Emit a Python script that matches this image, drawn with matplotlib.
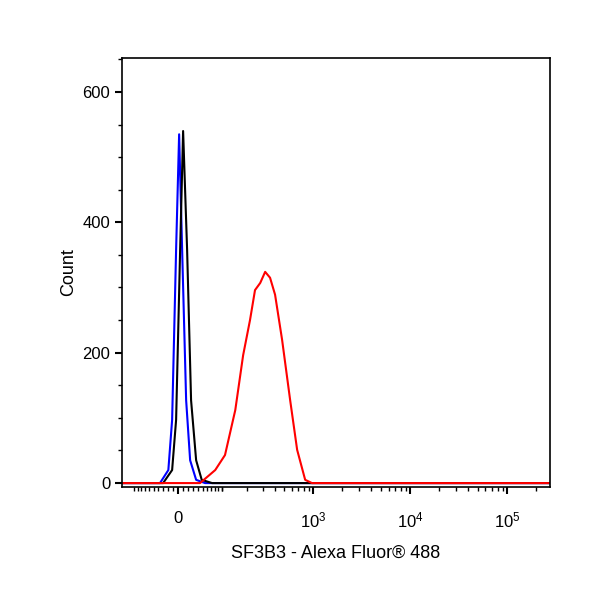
import matplotlib
matplotlib.use("Agg")
import matplotlib.pyplot as plt
import numpy as np

plt.rcParams['font.family'] = ['Liberation Sans', 'DejaVu Sans']
plt.rcParams['mathtext.fontset'] = 'custom'
plt.rcParams['mathtext.rm'] = 'Liberation Sans'
plt.rcParams['mathtext.it'] = 'Liberation Sans'

blue_x = [-140, -36, -19, -11.6, -3.9, 1.9, 7.7, 15.5, 23.4, 35.7, 55.5, 270000]
blue_y = [0, 0, 20, 97, 358, 535, 358, 127, 35, 5, 0, 0]
black_x = [-140, -29.5, -11.6, -3.9, 3.85, 9.6, 17.4, 25.3, 35.7, 47.8, 72.7, 270000]
black_y = [0, 0, 20, 97, 358, 540, 358, 127, 35, 5, 0, 0]
red_x = [-140, 44, 81, 110, 147, 181, 216, 245, 279, 315, 355, 401, 475, 577, 682, 826, 972, 270000]
red_y = [0, 0, 20, 43, 112, 196, 250, 296, 307, 324, 315, 289, 220, 127, 51, 5, 0, 0]

fig = plt.figure(figsize=(6, 6), dpi=100)
ax = fig.add_axes([122/600, 1-487/600, 428/600, 429/600])
ax.set_xscale('asinh', linear_width=81)
ax.plot(blue_x, blue_y, color='blue', lw=1.5)
ax.plot(black_x, black_y, color='black', lw=1.5)
ax.plot(red_x, red_y, color='red', lw=1.5)
ax.set_xlim(-143, 278000)
ax.set_ylim(-6, 652)

ax.set_xticks([0, 1e3, 1e4, 1e5])
ax.set_xticklabels(['0', '$10^3$', '$10^4$', '$10^5$'])
minor = [v for v in range(-100, 101, 10) if v != 0]
for d in [100, 1000, 10000, 100000]:
    minor += [d * k for k in range(2, 10) if d * k < 278000]
minor += [100]
ax.set_xticks(minor, minor=True)
ax.set_yticks([0, 200, 400, 600])
ax.set_yticks(np.arange(0, 651, 50), minor=True)
ax.tick_params(axis='both', which='major', direction='out', length=5, width=1.5, labelsize=12)
ax.tick_params(axis='both', which='minor', direction='out', length=3, width=1)
ax.tick_params(axis='x', pad=12)
for s in ax.spines.values():
    s.set_linewidth(1.2)
ax.set_xlabel('SF3B3 - Alexa Fluor® 488', fontsize=13, labelpad=10)
ax.set_ylabel('Count', fontsize=13)
fig.savefig('out.png')
